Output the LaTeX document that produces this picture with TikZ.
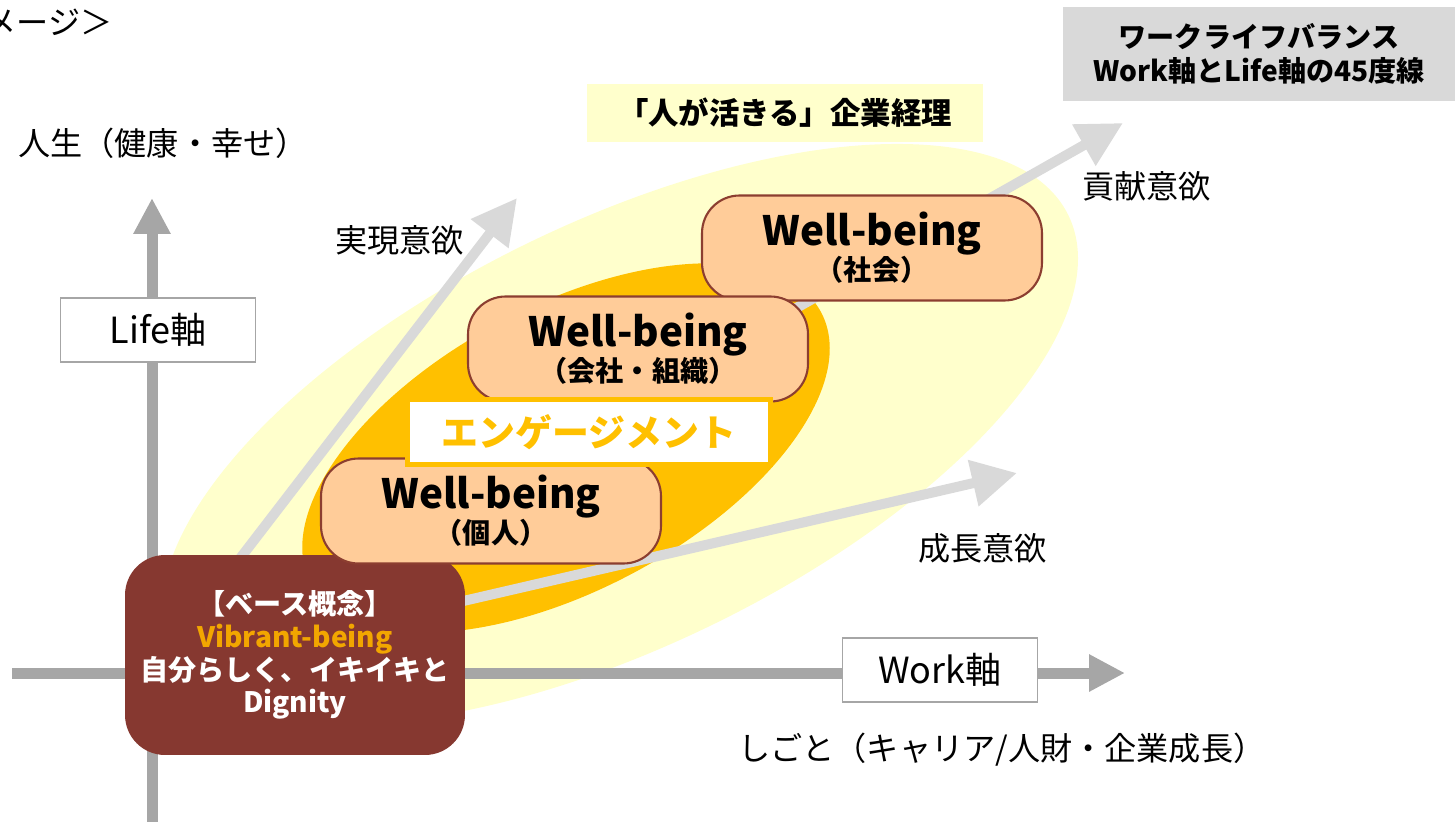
\documentclass[tikz,border=0pt]{standalone}
\usepackage{fontspec}
\setmainfont{Noto Sans CJK JP}
\usetikzlibrary{arrows.meta}
\definecolor{paleyellow}{HTML}{FFFFCC}
\definecolor{gold}{HTML}{FFC000}
\definecolor{vibrant}{RGB}{242,166,0}
\definecolor{peach}{HTML}{FFCC99}
\definecolor{basebrown}{RGB}{134,56,48}
\definecolor{wbline}{RGB}{140,62,48}
\definecolor{axisgray}{HTML}{A6A6A6}
\definecolor{arrowgray}{HTML}{D9D9D9}
\begin{document}
\begin{tikzpicture}[x=0.02cm, y=-0.02cm,
	axis arrow/.style={line width=0.22cm, draw=axisgray, -{Triangle[length=0.72cm, width=0.7cm]}},
	will arrow/.style={line width=0.2cm, draw=arrowgray, -{Triangle[length=0.9cm, width=0.9cm]}},
	axis box/.style={draw=axisgray, line width=1pt, fill=white, minimum width=3.9cm, minimum height=1.28cm, font=\fontsize{20.5}{22}\selectfont},
	wb box/.style={draw=wbline, line width=1.2pt, fill=peach, rounded corners=0.75cm, minimum width=6.8cm, minimum height=2.1cm, align=center, font=\bfseries\fontsize{16}{20}\selectfont},
	thin text/.style={font=\fontsize{18.3}{20}\selectfont, anchor=west, inner sep=0pt}]
	%\draw[help lines, step=2cm] (0,0) grid (1455,822);
		\useasboundingbox (0,0) rectangle (1455,822);
		\clip (0,0) rectangle (1455,822);
		% background ellipses
		\fill[paleyellow, rotate around={26:(620,434)}] (620,434) ellipse [x radius=9.98cm, y radius=4.24cm];
		\fill[gold, rotate around={28:(566,448)}] (566,448) ellipse [x radius=5.78cm, y radius=2.84cm];
		% axes
		\coordinate (o) at (152,673);
		\coordinate (lifeS) at (152,840);
		\coordinate (lifeE) at (152,198);
		\coordinate (workS) at (12,673);
		\coordinate (workE) at (1125,673);
		\draw[axis arrow] (lifeS) -- (lifeE);
		\draw[axis arrow] (workS) -- (workE);
		% motivation arrows
		\coordinate (tipReal) at (517,198);
		\coordinate (tipContrib) at (1123,123);
		\coordinate (tipGrowth) at (1017,473);
		\foreach \t in {tipReal, tipContrib, tipGrowth}{
		  \draw[will arrow] (o) -- (\t);
		}
		\node[axis box] (lifeBox) at (158,330) {Life軸};
		\node[axis box] (workBox) at (940,670) {Work軸};
		% base concept
		\node[fill=basebrown, rounded corners=0.8cm, minimum width=6.8cm, minimum height=4cm, align=center, text=white,
		  font=\bfseries\fontsize{16}{18.7}\selectfont] (base) at (295,655)
		  {【ベース概念】\\\textcolor{vibrant}{Vibrant-being}\\自分らしく、イキイキと\\Dignity};
		% well-being boxes
		\foreach \nm/\x/\y/\sub in {wbSoc/872/248/社会, wbOrg/638/349/会社・組織, wbInd/491/511/個人}{
		  \node[wb box] (\nm) at (\x,\y) {{\fontsize{23}{20}\selectfont Well-being}\\（\sub）};
		}
		\node[draw=gold, line width=0.1cm, fill=white, minimum width=7.26cm, minimum height=1.3cm, text=gold,
		  font=\bfseries\fontsize{21}{22}\selectfont] (engage) at (589,432) {エンゲージメント};
		% titles
		\node[fill=arrowgray, minimum width=7.84cm, minimum height=1.88cm, align=center,
		  font=\bfseries\fontsize{16}{19.3}\selectfont] (wlb) at (1259,54) {ワークライフバランス\\Work軸とLife軸の45度線};
		\node[fill=paleyellow, minimum width=7.92cm, minimum height=1.16cm,
		  font=\bfseries\fontsize{17.3}{18}\selectfont] (motto) at (785,113) {「人が活きる」企業経理};
		% free labels
		\node[thin text] (img) at (-16,22) {メージ＞};
		\node[thin text] (life) at (18,143) {人生（健康・幸せ）};
		\node[thin text] (real) at (335,240) {実現意欲};
		\node[thin text] (contrib) at (1082,186) {貢献意欲};
		\node[thin text] (growth) at (918,548) {成長意欲};
		\node[thin text] (work) at (738,750) {しごと（キャリア/人財・企業成長）};
\end{tikzpicture}
\end{document}
